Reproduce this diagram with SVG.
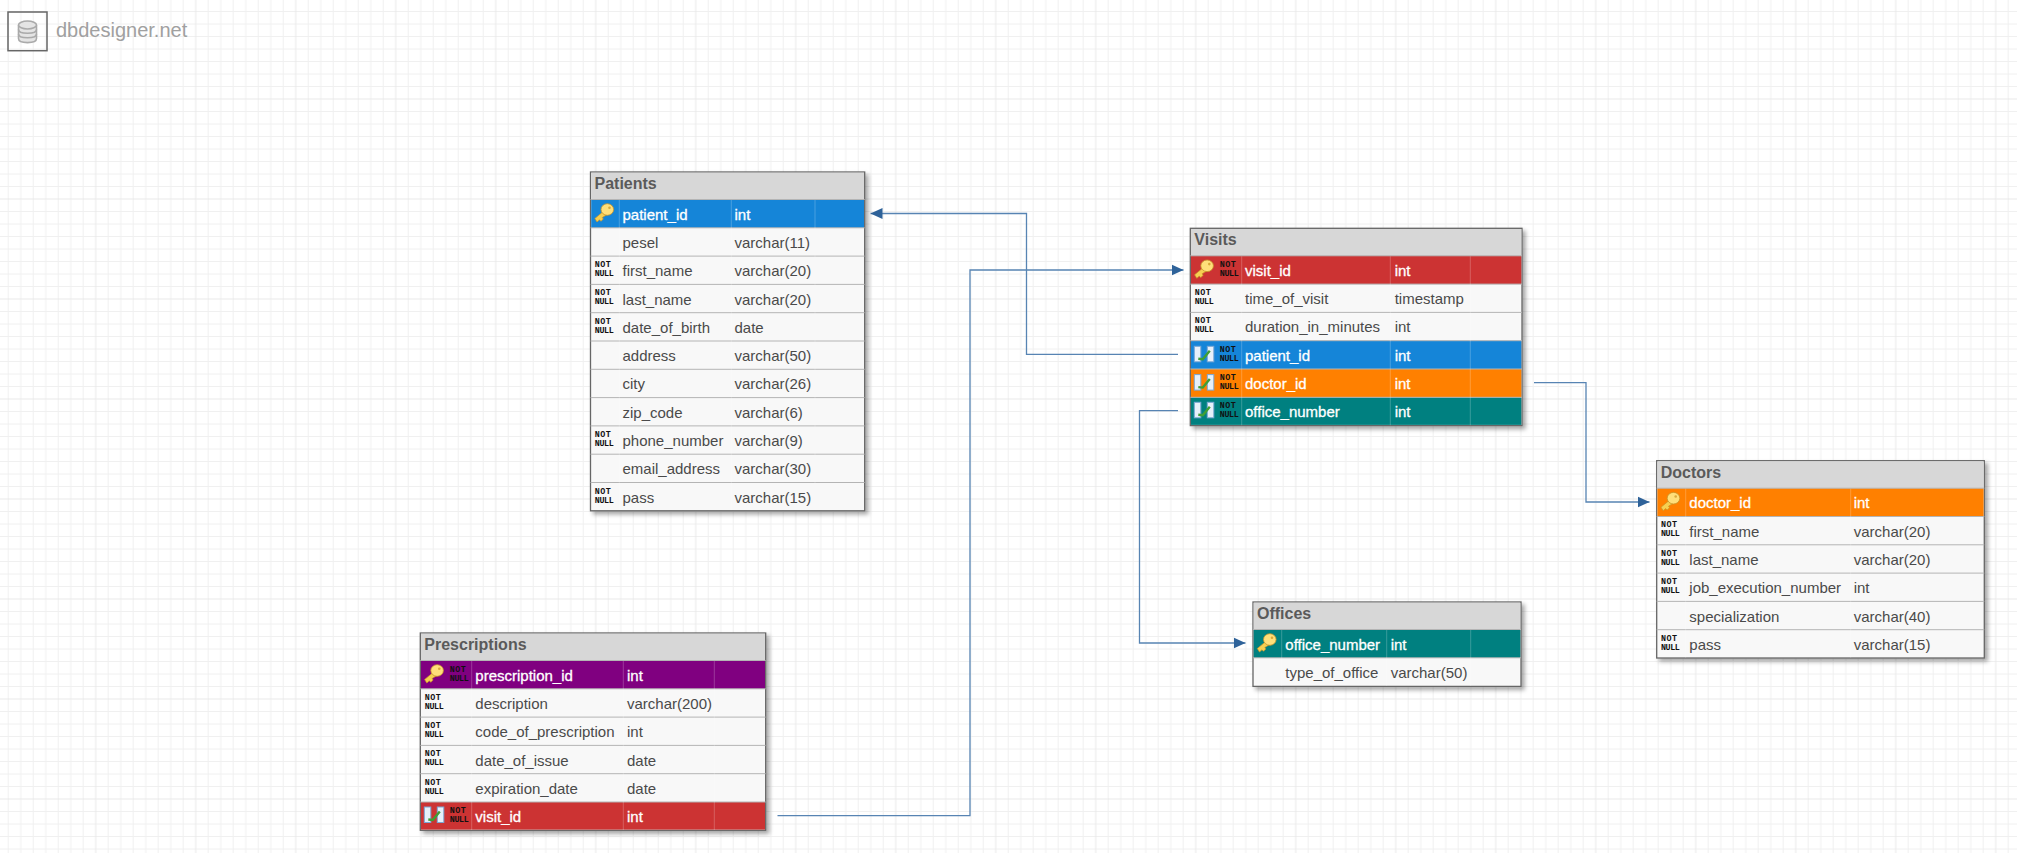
<svg xmlns="http://www.w3.org/2000/svg" width="2017" height="853" viewBox="0 0 2017 853">
<style>
text{font-family:"Liberation Sans",Arial,sans-serif}
.title{font-size:16px;font-weight:bold;fill:#5a5a5a}
.c{font-size:15px;fill:#4a4a4a}
.w{font-size:15px;fill:#fff;stroke:#fff;stroke-width:.3}
.nn{font-family:"Liberation Mono",monospace;font-size:8.4px;font-weight:bold;fill:#111;letter-spacing:-.4px}
.nt{letter-spacing:.5px}
.head{fill:#d7d7d7}
.frame{fill:#f8f8f8;stroke:#666;stroke-width:1.3;filter:url(#sh)}
.sep{stroke:#b4b4b4;stroke-width:1}
.col{stroke:#fff;stroke-opacity:.22;stroke-width:1}
.conn{fill:none;stroke:#5784b3;stroke-width:1.3;marker-end:url(#arrow)}
.blue{fill:#1585d8}.red{fill:#cc3333}.orange{fill:#ff8000}.teal{fill:#008080}.purple{fill:#800080}
</style>
<defs>
<pattern id="grid" width="100" height="100" patternUnits="userSpaceOnUse" x="-4.3" y="-1">
<path d="M12.5 0V100M25 0V100M37.5 0V100M50 0V100M62.500 0V100M75 0V100M87.500 0V100M0 12.500H100M0 25H100M0 37.500H100M0 50H100M0 62.500H100M0 75H100M0 87.500H100" fill="none" stroke="#f0f0f0" stroke-width="1"/>
<path d="M0 0V100M0 0H100M100 0V100M0 100H100" fill="none" stroke="#e9e9e9" stroke-width="1"/>
</pattern>
<marker id="arrow" markerUnits="userSpaceOnUse" markerWidth="12" markerHeight="12" refX="12" refY="6" orient="auto"><path d="M0 .5L12 6L0 11.5z" fill="#2e6299"/></marker>
<filter id="sh" x="-5%" y="-5%" width="112%" height="115%"><feDropShadow dx="3" dy="3" stdDeviation="2" flood-color="#000" flood-opacity=".35"/></filter>
<g id="key">
<path d="M10.500 7.500L.8 15.500L3 19L5.500 16.800L7 18.300L9.300 16L8.300 14.500L14 11z" fill="#f6cf52" stroke="#c8942a" stroke-width=".7"/>
<ellipse cx="13.300" cy="6.500" rx="6.300" ry="5.800" fill="#ffdf7a" stroke="#c8942a" stroke-width=".8"/>
<circle cx="15.500" cy="4.800" r="1.300" fill="#d9a93a"/>
</g>
<g id="fk">
<rect x=".5" y=".5" width="6.500" height="15.500" fill="#e6f0fa" stroke="#7aa7d4"/>
<rect x="13.500" y=".5" width="6.500" height="15.500" fill="#e6f0fa" stroke="#7aa7d4"/>
<path d="M4.500 13L9 13.500L16 5" fill="none" stroke="#3f9e35" stroke-width="2.400"/>
</g>
</defs>
<rect width="2017" height="853" fill="#fff"/>
<rect width="2017" height="853" fill="url(#grid)"/>
<g id="logo">
<rect x="8" y="12" width="39" height="38.700" fill="none" stroke="#666" stroke-width="1.500"/>
<path d="M18.500 25v13.500c0 5.500 18 5.500 18 0V25" fill="#e4e4e4" stroke="#aaa" stroke-width="1.600"/>
<ellipse cx="27.500" cy="25" rx="9" ry="4" fill="#e4e4e4" stroke="#aaa" stroke-width="1.600"/>
<path d="M18.500 29.500c0 5 18 5 18 0M18.500 34c0 5 18 5 18 0" fill="none" stroke="#aaa" stroke-width="1.600"/>
<text x="56" y="37.300" font-size="20" fill="#a0a0a0">dbdesigner.net</text>
</g>
<g id="connectors">
<path id="c-patient" class="conn" d="M1178 354.300H1026.500V213.500H870.500"/>
<path id="c-visit" class="conn" d="M777.500 815.700H970V270H1183.500"/>
<path id="c-doctor" class="conn" d="M1534 382.700H1586V502H1649.500"/>
<path id="c-office" class="conn" d="M1178 410.700H1139.500V643H1245.500"/>
</g>
<g id="patients" transform="translate(590.500,172)">
<rect class="frame" width="274.200" height="338.800"/>
<rect class="head" x=".7" y=".7" width="272.800" height="26.800"/>
<rect class="blue" x=".7" y="27.500" width="272.800" height="28.300"/>
<path class="sep" d="M0 27.500H274.200M0 55.800H274.200M0 84.100H274.200M0 112.400H274.200M0 140.700H274.200M0 169H274.200M0 197.300H274.200M0 225.600H274.200M0 253.900H274.200M0 282.200H274.200M0 310.500H274.200"/>
<path class="col" d="M28.800 28V338M140.800 28V338M224.500 28V338"/>
<text class="title" x="4" y="17">Patients</text>
<use href="#key" x="3.500" y="31"/>
<text class="w" x="32" y="47.500">patient_id</text><text class="w" x="144" y="47.500">int</text>
<text class="c" x="32" y="75.800">pesel</text><text class="c" x="144" y="75.800">varchar(11)</text>
<text class="nn nt" x="4.300" y="95.100">NOT</text><text class="nn" x="4.300" y="104.100">NULL</text><text class="c" x="32" y="104.100">first_name</text><text class="c" x="144" y="104.100">varchar(20)</text>
<text class="nn nt" x="4.300" y="123.400">NOT</text><text class="nn" x="4.300" y="132.400">NULL</text><text class="c" x="32" y="132.800">last_name</text><text class="c" x="144" y="132.800">varchar(20)</text>
<text class="nn nt" x="4.300" y="151.700">NOT</text><text class="nn" x="4.300" y="160.700">NULL</text><text class="c" x="32" y="160.700">date_of_birth</text><text class="c" x="144" y="160.700">date</text>
<text class="c" x="32" y="189">address</text><text class="c" x="144" y="189">varchar(50)</text>
<text class="c" x="32" y="217.300">city</text><text class="c" x="144" y="217.300">varchar(26)</text>
<text class="c" x="32" y="245.600">zip_code</text><text class="c" x="144" y="245.600">varchar(6)</text>
<text class="nn nt" x="4.300" y="264.900">NOT</text><text class="nn" x="4.300" y="273.900">NULL</text><text class="c" x="32" y="273.900">phone_number</text><text class="c" x="144" y="273.900">varchar(9)</text>
<text class="c" x="32" y="302.200">email_address</text><text class="c" x="144" y="302.200">varchar(30)</text>
<text class="nn nt" x="4.300" y="321.500">NOT</text><text class="nn" x="4.300" y="330.500">NULL</text><text class="c" x="32" y="330.500">pass</text><text class="c" x="144" y="330.500">varchar(15)</text>
</g>
<g id="visits" transform="translate(1190.300,228.300)">
<rect class="frame" width="331.700" height="197.300"/>
<rect class="head" x=".7" y=".7" width="330.300" height="26.800"/>
<rect class="red" x=".7" y="27.500" width="330.300" height="28.300"/>
<rect class="blue" x=".7" y="112.400" width="330.300" height="28.300"/>
<rect class="orange" x=".7" y="140.700" width="330.300" height="28.300"/>
<rect class="teal" x=".7" y="169" width="330.300" height="27.600"/>
<path class="sep" d="M0 27.500H331.700M0 55.800H331.700M0 84.100H331.700M0 112.400H331.700M0 140.700H331.700M0 169H331.700"/>
<path class="col" d="M51.400 28V197M200 28V197M280 28V197"/>
<text class="title" x="4" y="17">Visits</text>
<use href="#key" x="3.500" y="31"/>
<text class="nn nt" x="29.500" y="38.500">NOT</text><text class="nn" x="29.500" y="47.500">NULL</text><text class="w" x="54.700" y="47.500">visit_id</text><text class="w" x="204.400" y="47.500">int</text>
<text class="nn nt" x="4.500" y="66.800">NOT</text><text class="nn" x="4.500" y="75.800">NULL</text><text class="c" x="54.700" y="76.200">time_of_visit</text><text class="c" x="204.400" y="76.200">timestamp</text>
<text class="nn nt" x="4.500" y="95.100">NOT</text><text class="nn" x="4.500" y="104.100">NULL</text><text class="c" x="54.700" y="104.100">duration_in_minutes</text><text class="c" x="204.400" y="104.100">int</text>
<use href="#fk" x="3.500" y="117.500"/>
<text class="nn nt" x="29.500" y="123.400">NOT</text><text class="nn" x="29.500" y="132.400">NULL</text><text class="w" x="54.700" y="132.400">patient_id</text><text class="w" x="204.400" y="132.400">int</text>
<use href="#fk" x="3.500" y="145.800"/>
<text class="nn nt" x="29.500" y="151.700">NOT</text><text class="nn" x="29.500" y="160.700">NULL</text><text class="w" x="54.700" y="160.700">doctor_id</text><text class="w" x="204.400" y="160.700">int</text>
<use href="#fk" x="3.500" y="173.500"/>
<text class="nn nt" x="29.500" y="180">NOT</text><text class="nn" x="29.500" y="189">NULL</text><text class="w" x="54.700" y="189">office_number</text><text class="w" x="204.400" y="189">int</text>
</g>
<g id="prescriptions" transform="translate(420.300,633)">
<rect class="frame" width="345.400" height="197.300"/>
<rect class="head" x=".7" y=".7" width="344" height="26.800"/>
<rect class="purple" x=".7" y="27.500" width="344" height="28.300"/>
<rect class="red" x=".7" y="169" width="344" height="27.600"/>
<path class="sep" d="M0 27.500H345.400M0 55.800H345.400M0 84.100H345.400M0 112.400H345.400M0 140.700H345.400M0 169H345.400"/>
<path class="col" d="M51.400 28V197M203 28V197M294 28V197"/>
<text class="title" x="4" y="17">Prescriptions</text>
<use href="#key" x="3.500" y="31"/>
<text class="nn nt" x="29.500" y="38.500">NOT</text><text class="nn" x="29.500" y="47.500">NULL</text><text class="w" x="55" y="47.500">prescription_id</text><text class="w" x="206.700" y="47.500">int</text>
<text class="nn nt" x="4.500" y="66.800">NOT</text><text class="nn" x="4.500" y="75.800">NULL</text><text class="c" x="55" y="76.200">description</text><text class="c" x="206.700" y="76.200">varchar(200)</text>
<text class="nn nt" x="4.500" y="95.100">NOT</text><text class="nn" x="4.500" y="104.100">NULL</text><text class="c" x="55" y="104.100">code_of_prescription</text><text class="c" x="206.700" y="104.100">int</text>
<text class="nn nt" x="4.500" y="123.400">NOT</text><text class="nn" x="4.500" y="132.400">NULL</text><text class="c" x="55" y="132.800">date_of_issue</text><text class="c" x="206.700" y="132.800">date</text>
<text class="nn nt" x="4.500" y="151.700">NOT</text><text class="nn" x="4.500" y="160.700">NULL</text><text class="c" x="55" y="160.700">expiration_date</text><text class="c" x="206.700" y="160.700">date</text>
<use href="#fk" x="3.500" y="173.500"/>
<text class="nn nt" x="29.500" y="180">NOT</text><text class="nn" x="29.500" y="189">NULL</text><text class="w" x="55" y="189">visit_id</text><text class="w" x="206.700" y="189">int</text>
</g>
<g id="doctors" transform="translate(1656.700,460.700)">
<rect class="frame" width="327.600" height="197.300"/>
<rect class="head" x=".7" y=".7" width="326.200" height="26.800"/>
<rect class="orange" x=".7" y="27.500" width="326.200" height="28.300"/>
<path class="sep" d="M0 27.500H327.600M0 55.800H327.600M0 84.100H327.600M0 112.400H327.600M0 140.700H327.600M0 169H327.600"/>
<path class="col" d="M29 28V197M194 28V197"/>
<text class="title" x="4" y="17">Doctors</text>
<use href="#key" x="3.500" y="31"/>
<text class="w" x="32.600" y="47.500">doctor_id</text><text class="w" x="197" y="47.500">int</text>
<text class="nn nt" x="4.300" y="66.800">NOT</text><text class="nn" x="4.300" y="75.800">NULL</text><text class="c" x="32.600" y="76.200">first_name</text><text class="c" x="197" y="76.200">varchar(20)</text>
<text class="nn nt" x="4.300" y="95.100">NOT</text><text class="nn" x="4.300" y="104.100">NULL</text><text class="c" x="32.600" y="104.100">last_name</text><text class="c" x="197" y="104.100">varchar(20)</text>
<text class="nn nt" x="4.300" y="123.400">NOT</text><text class="nn" x="4.300" y="132.400">NULL</text><text class="c" x="32.600" y="132.400">job_execution_number</text><text class="c" x="197" y="132.400">int</text>
<text class="c" x="32.600" y="161.100">specialization</text><text class="c" x="197" y="161.100">varchar(40)</text>
<text class="nn nt" x="4.300" y="180">NOT</text><text class="nn" x="4.300" y="189">NULL</text><text class="c" x="32.600" y="189">pass</text><text class="c" x="197" y="189">varchar(15)</text>
</g>
<g id="offices" transform="translate(1253,602)">
<rect class="frame" width="268" height="84.400"/>
<rect class="head" x=".7" y=".7" width="266.600" height="26.800"/>
<rect class="teal" x=".7" y="27.500" width="266.600" height="28.300"/>
<path class="sep" d="M0 27.500H268M0 55.800H268"/>
<path class="col" d="M28.700 28V84M133.700 28V84M217.700 28V84"/>
<text class="title" x="4" y="17">Offices</text>
<use href="#key" x="3.500" y="31"/>
<text class="w" x="32.300" y="47.500">office_number</text><text class="w" x="137.700" y="47.500">int</text>
<text class="c" x="32.300" y="75.800">type_of_office</text><text class="c" x="137.700" y="75.800">varchar(50)</text>
</g>
</svg>
